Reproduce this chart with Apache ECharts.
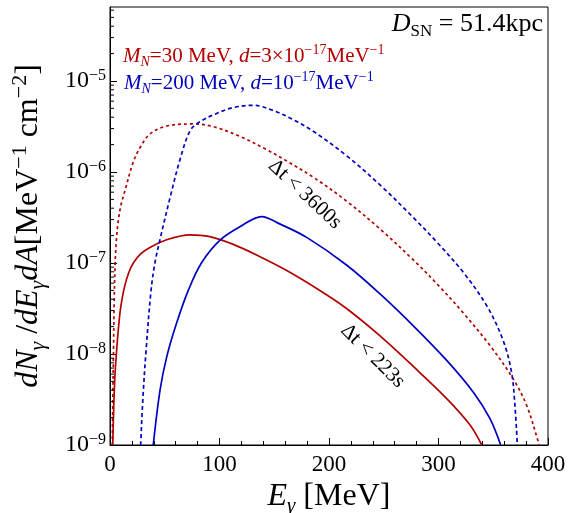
<!DOCTYPE html>
<html>
<head>
<meta charset="utf-8">
<script src="https://cdn.jsdelivr.net/npm/echarts@6/dist/echarts.min.js"></script>
<style>
  html, body { margin: 0; padding: 0; background: #fff; }
  #chart { width: 576px; height: 513px; }
</style>
</head>
<body>
<div id="chart"></div>
<script>
// photon spectra [E_gamma (MeV), dN/dE dA (MeV^-1 cm^-2)]
const red223 = [
  [2.5, 1.0e-9], [3.5, 2.8e-9], [4.6, 6.0e-9], [6.7, 1.38e-8], [9.1, 2.82e-8],
  [11.4, 4.27e-8], [13.7, 5.75e-8], [17, 7.76e-8], [21.3, 1.0e-7], [28, 1.26e-7],
  [36.5, 1.48e-7], [51.8, 1.8e-7], [73, 2.04e-7], [91, 1.95e-7], [112.6, 1.6e-7],
  [137, 1.17e-7], [161, 8.3e-8], [192, 4.95e-8], [216, 3.16e-8], [246.6, 1.58e-8],
  [277, 7.3e-9], [307.5, 3.24e-9], [328.8, 1.66e-9], [339.5, 1.0e-9]
];
const red3600 = [
  [2.1, 1.0e-9], [2.65, 3.54e-9], [3.2, 1.11e-8], [3.84, 3.92e-8], [4.75, 1.03e-7],
  [6.03, 1.93e-7], [7.67, 2.97e-7], [10.05, 4.34e-7], [13.7, 6.26e-7], [21.3, 1.29e-6],
  [28.3, 1.93e-6], [36.5, 2.62e-6], [51.8, 3.2e-6], [76, 3.37e-6], [94, 3.16e-6],
  [119, 2.45e-6], [143, 1.76e-6], [160, 1.35e-6], [186, 8.7e-7], [216, 4.79e-7],
  [247, 2.34e-7], [277, 1.08e-7], [301, 5.5e-8], [323, 2.79e-8], [347, 1.24e-8],
  [368, 5.37e-9], [380.5, 2.72e-9], [391, 1.1e-9], [392, 1.0e-9]
];
const blue223 = [
  [39.5, 1.0e-9], [45.7, 4.0e-9], [51.8, 9.3e-9], [60.9, 2.2e-8], [71.5, 5.0e-8],
  [83.5, 1.0e-7], [100.5, 1.78e-7], [118.7, 2.5e-7], [138.5, 3.24e-7],
  [155, 2.69e-7], [180, 1.9e-7], [216, 9.5e-8], [246.6, 4.57e-8],
  [277, 2.04e-8], [307.5, 8.5e-9], [331.8, 3.8e-9], [347, 1.95e-9], [356.8, 1.0e-9]
];
const blue3600 = [
  [28, 1.0e-9], [30, 3.2e-9], [33, 1.12e-8], [37.5, 5.0e-8], [41, 1.0e-7],
  [45.7, 1.82e-7], [54.8, 5.2e-7], [64, 1.38e-6], [73, 2.82e-6], [80.6, 3.47e-6],
  [97.4, 4.4e-6], [112.6, 5.1e-6], [131, 5.4e-6], [149, 4.74e-6], [167, 3.78e-6],
  [186, 2.78e-6], [216, 1.51e-6], [246.6, 7.2e-7], [277, 3.16e-7], [298, 1.72e-7],
  [322.6, 7.9e-8], [344, 3.4e-8], [359, 1.41e-8], [366.8, 6.2e-9], [369.9, 2.6e-9],
  [372, 1.0e-9]
];

// axes
const xMin = 0, xMax = 400, xStep = 100;
const yMin = 1e-9, yMax = 6.5e-5;
const minorMantissas = [2, 3, 4, 5, 6, 7, 8, 9];
const minorExponents = [-9, -8, -7, -6, -5];

const RED = '#b20000';
const BLUE = '#0000c0';
const FONT = 'Liberation Serif';

// rich text pieces: n normal, i italic, sup/sub scripts
function richSet(size, color, ratio) {
  const lh = Math.round(size * 1.25);
  const small = Math.round(size * (ratio || 0.66));
  const base = { fontFamily: FONT, color, fill: color };
  return {
    n: { ...base, fontSize: size, lineHeight: lh },
    i: { ...base, fontSize: size, lineHeight: lh, fontStyle: 'italic' },
    sup: { ...base, fontSize: small, lineHeight: small, verticalAlign: 'top' },
    sub: { ...base, fontSize: small, lineHeight: small, verticalAlign: 'bottom' },
    subi: { ...base, fontSize: small, lineHeight: small, verticalAlign: 'bottom', fontStyle: 'italic' }
  };
}

const minorTicks = [];
minorExponents.forEach(e => minorMantissas.forEach(m => {
  const v = m * Math.pow(10, e);
  if (v < yMax) minorTicks.push([xMin, v]);
}));

const chart = echarts.init(document.getElementById('chart'), null, { renderer: 'canvas' });

const lineSeries = (name, data, color, dashed) => ({
  name,
  type: 'line',
  data,
  showSymbol: false,
  smooth: 0.35,
  clip: true,
  lineStyle: { color, width: 1.7, type: dashed ? (color === RED ? [3, 3] : [4, 3]) : 'solid' },
  z: 3
});

chart.setOption({
  animation: false,
  backgroundColor: '#fff',
  grid: {
    left: 110, right: 28, top: 7, bottom: 68,
    outerBoundsMode: 'none', containLabel: false,
    show: true, borderColor: '#000', borderWidth: 1
  },
  xAxis: {
    type: 'value', min: xMin, max: xMax, interval: xStep,
    axisLine: { lineStyle: { color: '#000', width: 1 } },
    axisTick: { inside: true, length: 7, lineStyle: { color: '#000' } },
    minorTick: { show: true, splitNumber: 5, length: 4, lineStyle: { color: '#000' } },
    splitLine: { show: false },
    axisLabel: { fontFamily: FONT, fontSize: 23, color: '#000', margin: 8 },
    name: '{i|E}{subi|γ}{n| [MeV]}',
    nameLocation: 'middle', nameGap: 31,
    nameTextStyle: { rich: richSet(32, '#000') }
  },
  yAxis: {
    type: 'log', logBase: 10, min: yMin, max: yMax,
    axisLine: { show: true, lineStyle: { color: '#000', width: 1 } },
    axisTick: { inside: true, length: 7, lineStyle: { color: '#000' } },
    splitLine: { show: false },
    axisLabel: {
      showMaxLabel: false,
      margin: 4,
      formatter: (v) => {
        const l = Math.log10(v), e = Math.round(l);
        if (Math.abs(l - e) > 1e-6) return '';
        return '{b|10}{sup|−' + (-e) + '}';
      },
      rich: {
        b: { fontFamily: FONT, fontSize: 24, color: '#000', lineHeight: 27 },
        sup: { fontFamily: FONT, fontSize: 16, color: '#000', lineHeight: 14, verticalAlign: 'top' }
      }
    },
    name: '{i|dN}{subi|γ}{n| /}{i|dE}{subi|γ}{i|dA}{n|[MeV}{sup|−1}{n| cm}{sup|−2}{n|]}',
    nameLocation: 'middle', nameRotate: 90, nameGap: 61,
    nameTextStyle: { rich: richSet(32, '#000', 0.68) }
  },
  series: [
    {
      type: 'custom',
      silent: true,
      clip: false,
      data: minorTicks,
      renderItem: (params, api) => {
        const p = api.coord([api.value(0), api.value(1)]);
        return {
          type: 'line',
          shape: { x1: p[0], y1: p[1], x2: p[0] + 4, y2: p[1] },
          style: { stroke: '#000', lineWidth: 1 }
        };
      },
      z: 4
    },
    lineSeries('red 223s', red223, RED, false),
    lineSeries('red 3600s', red3600, RED, true),
    lineSeries('blue 223s', blue223, BLUE, false),
    lineSeries('blue 3600s', blue3600, BLUE, true)
  ]
});

// text labels
const p3600 = chart.convertToPixel({ gridIndex: 0 }, [178, 5.7e-7]);
const p223 = chart.convertToPixel({ gridIndex: 0 }, [240, 9.5e-9]);

chart.setOption({
  graphic: [
    {
      type: 'text', right: 33, top: 11,
      style: { text: '{i|D}{sub|SN}{n| = 51.4kpc}', rich: richSet(26, '#000') }
    },
    {
      type: 'text', left: 123, top: 43,
      style: { text: '{i|M}{subi|N}{n|=30 MeV, }{i|d}{n|=3×10}{sup|−17}{n|MeV}{sup|−1}', rich: richSet(21, RED) }
    },
    {
      type: 'text', left: 124, top: 70,
      style: { text: '{i|M}{subi|N}{n|=200 MeV, }{i|d}{n|=10}{sup|−17}{n|MeV}{sup|−1}', rich: richSet(21, BLUE) }
    },
    {
      type: 'text', x: p3600[0], y: p3600[1], rotation: -0.75,
      style: { text: 'Δt < 3600s', fontFamily: FONT, fontSize: 21, fill: '#000', align: 'center', verticalAlign: 'middle' }
    },
    {
      type: 'text', x: p223[0], y: p223[1], rotation: -0.78,
      style: { text: 'Δt < 223s', fontFamily: FONT, fontSize: 21, fill: '#000', align: 'center', verticalAlign: 'middle' }
    }
  ]
});
</script>
</body>
</html>
